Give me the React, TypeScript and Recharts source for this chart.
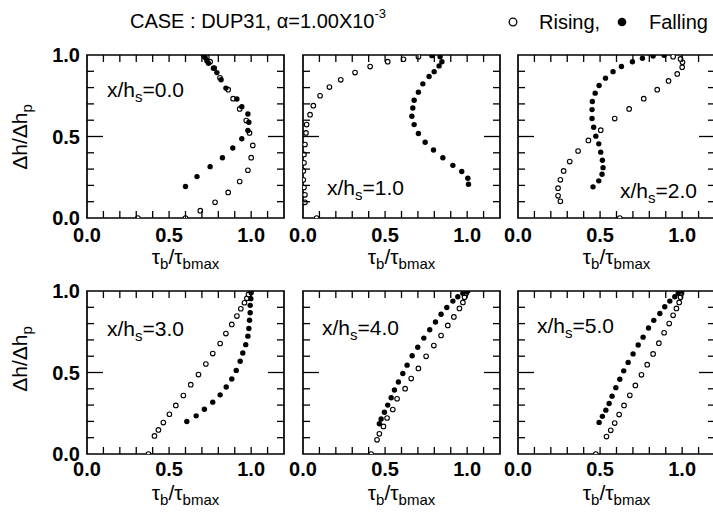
import React from "react";
import { ScatterChart, Scatter, XAxis, YAxis, ReferenceArea } from "recharts";

type Pt = { x: number; y: number };

const xTicks = [0, 0.1, 0.2, 0.3, 0.4, 0.5, 0.6, 0.7, 0.8, 0.9, 1.0, 1.1, 1.2];
const yTicks = [0, 0.1, 0.2, 0.3, 0.4, 0.5, 0.6, 0.7, 0.8, 0.9, 1.0];
const xTickLabels = [0, 0.5, 1.0];
const yTickLabels = [0, 0.5, 1.0];
const panelLabels = ["0.0", "1.0", "2.0", "3.0", "4.0", "5.0"];

const rising0: Pt[] = [
  { x: 0.31, y: 0 }, { x: 0.6, y: 0 }, { x: 0.69, y: 0.045 }, { x: 0.78, y: 0.096 },
  { x: 0.86, y: 0.157 }, { x: 0.93, y: 0.224 }, { x: 0.98, y: 0.293 }, { x: 1.0, y: 0.37 },
  { x: 1.01, y: 0.445 }, { x: 0.99, y: 0.522 }, { x: 0.97, y: 0.598 }, { x: 0.93, y: 0.669 },
  { x: 0.89, y: 0.732 }, { x: 0.86, y: 0.787 }, { x: 0.81, y: 0.86 }, { x: 0.775, y: 0.92 },
  { x: 0.75, y: 0.959 }, { x: 0.73, y: 0.986 },
];
const falling0: Pt[] = [
  { x: 0.6, y: 0.193 }, { x: 0.67, y: 0.254 }, { x: 0.75, y: 0.315 }, { x: 0.825, y: 0.37 },
  { x: 0.888, y: 0.429 }, { x: 0.943, y: 0.486 }, { x: 0.98, y: 0.537 }, { x: 0.986, y: 0.587 },
  { x: 0.98, y: 0.638 }, { x: 0.943, y: 0.683 }, { x: 0.913, y: 0.73 }, { x: 0.846, y: 0.797 },
  { x: 0.817, y: 0.848 }, { x: 0.791, y: 0.892 }, { x: 0.77, y: 0.919 }, { x: 0.74, y: 0.949 },
  { x: 0.73, y: 0.965 }, { x: 0.72, y: 0.984 }, { x: 0.713, y: 0.996 }, { x: 0.709, y: 1.0 },
];

const rising1: Pt[] = [
  { x: 0.083, y: 0 }, { x: 0.012, y: 0.096 }, { x: 0.012, y: 0.142 }, { x: 0.006, y: 0.187 },
  { x: 0.002, y: 0.234 }, { x: 0.002, y: 0.289 }, { x: 0.006, y: 0.339 }, { x: 0.006, y: 0.39 },
  { x: 0.012, y: 0.451 }, { x: 0.018, y: 0.522 }, { x: 0.022, y: 0.573 }, { x: 0.043, y: 0.634 },
  { x: 0.063, y: 0.689 }, { x: 0.104, y: 0.75 }, { x: 0.161, y: 0.803 }, { x: 0.23, y: 0.848 },
  { x: 0.317, y: 0.892 }, { x: 0.409, y: 0.929 }, { x: 0.516, y: 0.959 }, { x: 0.612, y: 0.974 },
  { x: 0.703, y: 0.99 },
];
const falling1: Pt[] = [
  { x: 1.008, y: 0.207 }, { x: 1.004, y: 0.244 }, { x: 0.967, y: 0.285 }, { x: 0.913, y: 0.323 },
  { x: 0.852, y: 0.37 }, { x: 0.795, y: 0.417 }, { x: 0.744, y: 0.465 }, { x: 0.703, y: 0.518 },
  { x: 0.677, y: 0.573 }, { x: 0.663, y: 0.624 }, { x: 0.669, y: 0.675 }, { x: 0.677, y: 0.722 },
  { x: 0.703, y: 0.772 }, { x: 0.73, y: 0.823 }, { x: 0.768, y: 0.868 }, { x: 0.799, y: 0.898 },
  { x: 0.829, y: 0.933 }, { x: 0.846, y: 0.959 }, { x: 0.835, y: 0.99 }, { x: 0.785, y: 0.996 },
];

const rising2: Pt[] = [
  { x: 0.62, y: 0 }, { x: 0.258, y: 0.102 }, { x: 0.244, y: 0.136 }, { x: 0.244, y: 0.183 },
  { x: 0.258, y: 0.234 }, { x: 0.278, y: 0.289 }, { x: 0.315, y: 0.346 }, { x: 0.366, y: 0.411 },
  { x: 0.429, y: 0.476 }, { x: 0.504, y: 0.539 }, { x: 0.589, y: 0.61 }, { x: 0.677, y: 0.669 },
  { x: 0.766, y: 0.732 }, { x: 0.848, y: 0.787 }, { x: 0.917, y: 0.841 }, { x: 0.97, y: 0.884 },
  { x: 1.0, y: 0.925 }, { x: 1.002, y: 0.955 }, { x: 0.99, y: 0.976 }, { x: 0.945, y: 0.99 },
];
const falling2: Pt[] = [
  { x: 0.457, y: 0.191 }, { x: 0.492, y: 0.228 }, { x: 0.512, y: 0.268 }, { x: 0.518, y: 0.309 },
  { x: 0.514, y: 0.354 }, { x: 0.504, y: 0.404 }, { x: 0.492, y: 0.455 }, { x: 0.474, y: 0.502 },
  { x: 0.461, y: 0.557 }, { x: 0.451, y: 0.61 }, { x: 0.451, y: 0.665 }, { x: 0.453, y: 0.715 },
  { x: 0.47, y: 0.766 }, { x: 0.494, y: 0.813 }, { x: 0.533, y: 0.858 }, { x: 0.579, y: 0.898 },
  { x: 0.63, y: 0.929 }, { x: 0.697, y: 0.959 }, { x: 0.758, y: 0.98 }, { x: 0.823, y: 0.994 },
  { x: 0.89, y: 0.998 },
];

const rising3: Pt[] = [
  { x: 0.374, y: 0 }, { x: 0.411, y: 0.111 }, { x: 0.435, y: 0.148 }, { x: 0.465, y: 0.193 },
  { x: 0.502, y: 0.244 }, { x: 0.541, y: 0.298 }, { x: 0.587, y: 0.359 }, { x: 0.632, y: 0.425 },
  { x: 0.679, y: 0.487 }, { x: 0.724, y: 0.552 }, { x: 0.766, y: 0.616 }, { x: 0.811, y: 0.678 },
  { x: 0.846, y: 0.739 }, { x: 0.882, y: 0.795 }, { x: 0.913, y: 0.846 }, { x: 0.937, y: 0.891 },
  { x: 0.959, y: 0.928 }, { x: 0.974, y: 0.955 }, { x: 0.984, y: 0.979 },
];
const falling3: Pt[] = [
  { x: 0.608, y: 0.199 }, { x: 0.665, y: 0.234 }, { x: 0.715, y: 0.275 }, { x: 0.766, y: 0.318 },
  { x: 0.811, y: 0.363 }, { x: 0.848, y: 0.411 }, { x: 0.882, y: 0.46 }, { x: 0.909, y: 0.513 },
  { x: 0.933, y: 0.569 }, { x: 0.949, y: 0.62 }, { x: 0.967, y: 0.671 }, { x: 0.98, y: 0.723 },
  { x: 0.986, y: 0.77 }, { x: 0.99, y: 0.821 }, { x: 0.994, y: 0.867 }, { x: 0.994, y: 0.912 },
  { x: 0.998, y: 0.953 }, { x: 1.0, y: 0.99 },
];

const rising4: Pt[] = [
  { x: 0.415, y: 0 }, { x: 0.451, y: 0.087 }, { x: 0.465, y: 0.124 }, { x: 0.49, y: 0.169 },
  { x: 0.512, y: 0.221 }, { x: 0.547, y: 0.273 }, { x: 0.573, y: 0.339 }, { x: 0.622, y: 0.401 },
  { x: 0.659, y: 0.463 }, { x: 0.703, y: 0.525 }, { x: 0.75, y: 0.599 }, { x: 0.797, y: 0.665 },
  { x: 0.841, y: 0.727 }, { x: 0.882, y: 0.789 }, { x: 0.919, y: 0.841 }, { x: 0.953, y: 0.893 },
  { x: 0.974, y: 0.93 }, { x: 0.984, y: 0.961 }, { x: 0.994, y: 0.986 },
];
const falling4: Pt[] = [
  { x: 0.465, y: 0.186 }, { x: 0.476, y: 0.215 }, { x: 0.496, y: 0.256 }, { x: 0.516, y: 0.3 },
  { x: 0.537, y: 0.345 }, { x: 0.557, y: 0.393 }, { x: 0.581, y: 0.442 }, { x: 0.608, y: 0.494 },
  { x: 0.634, y: 0.545 }, { x: 0.665, y: 0.603 }, { x: 0.699, y: 0.655 }, { x: 0.736, y: 0.711 },
  { x: 0.772, y: 0.762 }, { x: 0.807, y: 0.81 }, { x: 0.841, y: 0.857 }, { x: 0.876, y: 0.899 },
  { x: 0.913, y: 0.938 }, { x: 0.943, y: 0.965 }, { x: 0.974, y: 0.986 }, { x: 0.994, y: 0.996 },
  { x: 1.004, y: 1.0 },
];

const rising5: Pt[] = [
  { x: 0.474, y: 0 }, { x: 0.539, y: 0.107 }, { x: 0.565, y: 0.145 }, { x: 0.589, y: 0.19 },
  { x: 0.616, y: 0.242 }, { x: 0.646, y: 0.298 }, { x: 0.681, y: 0.36 }, { x: 0.715, y: 0.421 },
  { x: 0.752, y: 0.486 }, { x: 0.787, y: 0.548 }, { x: 0.823, y: 0.614 }, { x: 0.858, y: 0.68 },
  { x: 0.89, y: 0.744 }, { x: 0.921, y: 0.8 }, { x: 0.945, y: 0.851 }, { x: 0.965, y: 0.893 },
  { x: 0.982, y: 0.93 }, { x: 0.99, y: 0.961 }, { x: 0.996, y: 0.986 },
];
const falling5: Pt[] = [
  { x: 0.494, y: 0.194 }, { x: 0.514, y: 0.231 }, { x: 0.535, y: 0.269 }, { x: 0.555, y: 0.31 },
  { x: 0.573, y: 0.355 }, { x: 0.596, y: 0.407 }, { x: 0.62, y: 0.459 }, { x: 0.644, y: 0.51 },
  { x: 0.671, y: 0.562 }, { x: 0.701, y: 0.614 }, { x: 0.732, y: 0.669 }, { x: 0.762, y: 0.717 },
  { x: 0.795, y: 0.773 }, { x: 0.827, y: 0.82 }, { x: 0.864, y: 0.862 }, { x: 0.894, y: 0.903 },
  { x: 0.925, y: 0.938 }, { x: 0.955, y: 0.965 }, { x: 0.976, y: 0.986 }, { x: 0.996, y: 1.0 },
];

const risingSets = [rising0, rising1, rising2, rising3, rising4, rising5];
const fallingSets = [falling0, falling1, falling2, falling3, falling4, falling5];

// layout
const PW = 197;
const PH = 163;
const ML = 80;
const MT = 12;
const MR = 12;
const MB = 62;
const FONT = '"Liberation Sans", Arial, Helvetica, sans-serif';
const colLeft = [87, 303, 518];
const rowTop = [55, 291];
const rowTickOffset = [17, 15];
const rowYLabelCenter = [137, 359];
const annotPos = [
  [107, 97], [327, 195], [620, 198],
  [107, 336], [322, 335], [537, 333],
];

const near = (a: number, b: number) => Math.abs(a - b) < 1e-6;

const makeXTick = (labelOffset: number) => (props: any) => {
  const { x, y, payload } = props;
  const v: number = payload.value;
  const inner = v > 1e-6 && v < 1.2 - 1e-6;
  const showLabel = xTickLabels.some((t) => near(t, v));
  return (
    <g>
      {inner && <line x1={x} x2={x} y1={y} y2={y - 7} stroke="#000" strokeWidth={1.3} />}
      {inner && <line x1={x} x2={x} y1={y - PH} y2={y - PH + 7} stroke="#000" strokeWidth={1.3} />}
      {showLabel && (
        <text x={x} y={y + labelOffset} textAnchor="middle" dominantBaseline="central"
          fontFamily={FONT} fontSize={20} fontWeight="bold" fill="#000">
          {v.toFixed(1)}
        </text>
      )}
    </g>
  );
};

const makeYTick = (showLabels: boolean) => (props: any) => {
  const { x, y, payload } = props;
  const v: number = payload.value;
  const inner = v > 1e-6 && v < 1 - 1e-6;
  const len = near(v, 0.5) ? 16 : 7;
  const showLabel = showLabels && yTickLabels.some((t) => near(t, v));
  return (
    <g>
      {inner && <line x1={x} x2={x + len} y1={y} y2={y} stroke="#000" strokeWidth={1.3} />}
      {inner && <line x1={x + PW} x2={x + PW - len} y1={y} y2={y} stroke="#000" strokeWidth={1.3} />}
      {showLabel && (
        <text x={x - 7} y={y} textAnchor="end" dominantBaseline="central"
          fontFamily={FONT} fontSize={20} fontWeight="bold" fill="#000">
          {v.toFixed(1)}
        </text>
      )}
    </g>
  );
};

const OpenDot = (p: any) => (
  <circle cx={p.cx} cy={p.cy} r={2.3} fill="#fff" stroke="#000" strokeWidth={1.1} />
);
const FilledDot = (p: any) => <circle cx={p.cx} cy={p.cy} r={2.7} fill="#000" />;

const Panel = ({ idx }: { idx: number }) => {
  const row = Math.floor(idx / 3);
  const col = idx % 3;
  const left = colLeft[col] - ML;
  const top = rowTop[row] - MT;
  return (
    <div style={{ position: "absolute", left, top }}>
      <ScatterChart width={ML + PW + MR} height={MT + PH + MB}
        margin={{ top: MT, right: MR, bottom: 0, left: 0 }}>
        <XAxis type="number" dataKey="x" domain={[0, 1.2]} ticks={xTicks} interval={0}
          tickLine={false} axisLine={false} tickSize={0} tickMargin={0}
          tick={makeXTick(rowTickOffset[row])} height={MB} allowDataOverflow />
        <YAxis type="number" dataKey="y" domain={[0, 1]} ticks={yTicks} interval={0}
          tickLine={false} axisLine={false} tickSize={0} tickMargin={0}
          tick={makeYTick(col === 0)} width={ML} allowDataOverflow />
        <ReferenceArea x1={0} x2={1.2} y1={0} y2={1} fill="none" fillOpacity={0}
          stroke="#000" strokeWidth={1.7} ifOverflow="visible" />
        <Scatter data={risingSets[idx]} shape={OpenDot} isAnimationActive={false} />
        <Scatter data={fallingSets[idx]} shape={FilledDot} isAnimationActive={false} />
      </ScatterChart>
    </div>
  );
};

export default function App() {
  return (
    <div style={{ position: "absolute", left: 0, top: 0, width: 713, height: 515,
      overflow: "hidden", background: "#fff" }}>
      {[0, 1, 2, 3, 4, 5].map((i) => <Panel key={i} idx={i} />)}
      <svg width={713} height={515} style={{ position: "absolute", left: 0, top: 0, pointerEvents: "none" }}
        fontFamily={FONT} fill="#000">
        <text x={130} y={28} fontSize={20}>
          CASE : DUP31, α=1.00X10<tspan dy={-10} fontSize={13}>-3</tspan>
        </text>
        <circle cx={513} cy={22} r={3.8} fill="#fff" stroke="#000" strokeWidth={1.3} />
        <text x={539} y={29} fontSize={20}>Rising,</text>
        <circle cx={622} cy={22} r={4.3} fill="#000" />
        <text x={649} y={29} fontSize={20}>Falling</text>
        {rowYLabelCenter.map((cy, r) => (
          <text key={"yl" + r} transform={`translate(27, ${cy}) rotate(-90)`} textAnchor="middle" fontSize={21}>
            Δh/Δh<tspan dy={5} fontSize={15}>p</tspan>
          </text>
        ))}
        {[0, 1, 2, 3, 4, 5].map((i) => {
          const row = Math.floor(i / 3);
          const col = i % 3;
          const cx = colLeft[col] + PW / 2;
          const by = rowTop[row] + PH + 46;
          return (
            <text key={"xl" + i} x={cx} y={by} textAnchor="middle" fontSize={21}>
              τ<tspan dy={5} fontSize={15}>b</tspan><tspan dy={-5}>/τ</tspan><tspan dy={5} fontSize={15}>bmax</tspan>
            </text>
          );
        })}
        {annotPos.map(([ax, ay], i) => (
          <text key={"an" + i} x={ax} y={ay} fontSize={21}>
            x/h<tspan dy={5} fontSize={15}>s</tspan><tspan dy={-5}>={panelLabels[i]}</tspan>
          </text>
        ))}
      </svg>
    </div>
  );
}
